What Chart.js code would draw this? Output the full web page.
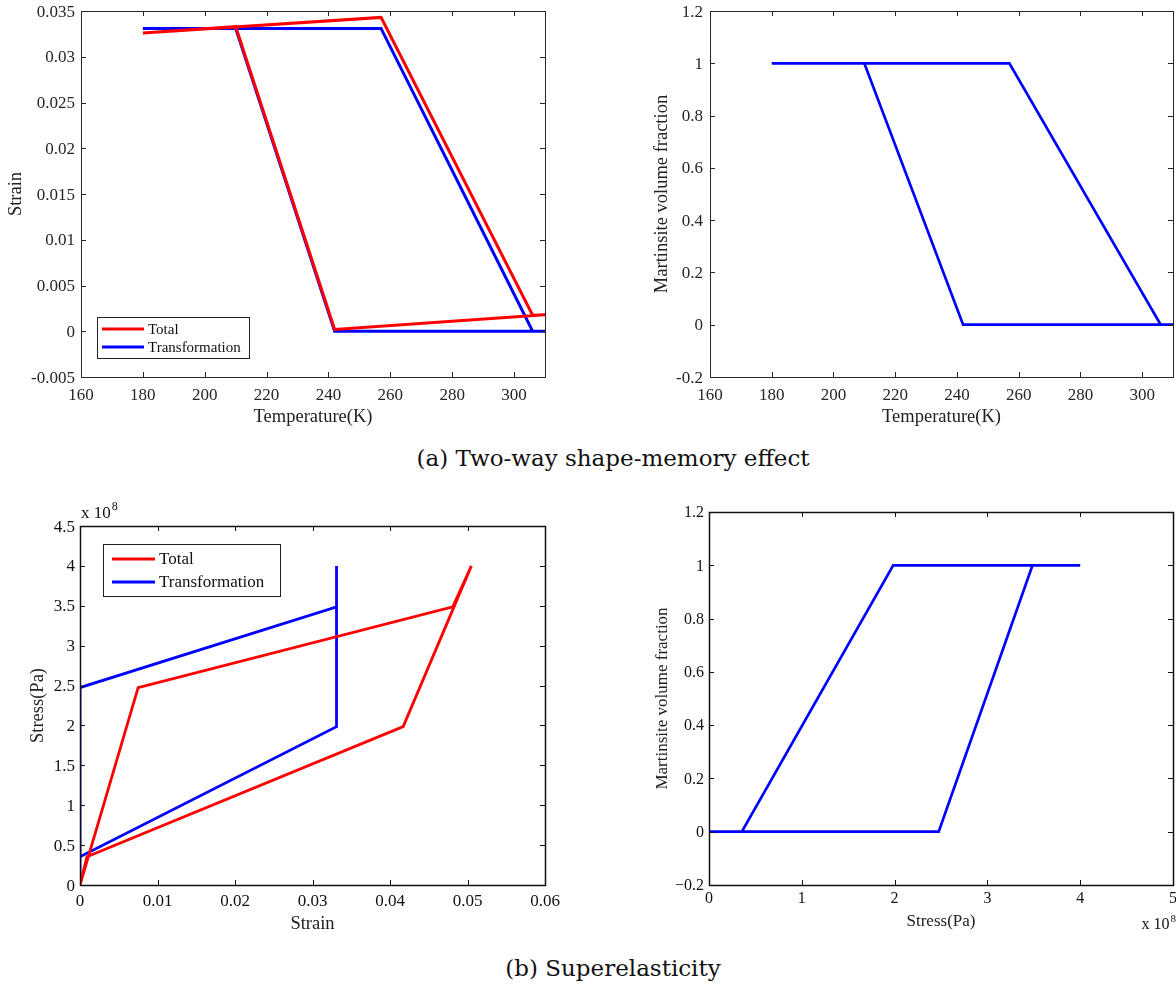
<!DOCTYPE html>
<html>
<head>
<meta charset="utf-8">
<title>SMA response</title>
<script src="https://cdn.jsdelivr.net/npm/chart.js@4.4.1/dist/chart.umd.min.js"></script>
<style>
  body { margin: 0; background: #fff; width: 1176px; height: 989px; position: relative; overflow: hidden; }
  canvas { position: absolute; }
  .caption { position: absolute; transform: translate(-50%, -50%); white-space: nowrap;
             font-family: "DejaVu Serif", "Liberation Serif", serif; font-size: 23px; color: #111; }
</style>
</head>
<body>
<canvas id="smeStrain" width="570" height="440" style="left:0;top:0"></canvas>
<canvas id="smeFraction" width="576" height="440" style="left:600px;top:0"></canvas>
<canvas id="seStress" width="570" height="450" style="left:0;top:490px"></canvas>
<canvas id="seFraction" width="576" height="450" style="left:600px;top:490px"></canvas>
<div class="caption" style="left:613px;top:458px">(a) Two-way shape-memory effect</div>
<div class="caption" style="left:613px;top:968px">(b) Superelasticity</div>

<script>
// (a) one thermal cycle: heat 180 K -> 310 K, then cool back to 180 K
const temperature      = [180, 257, 306, 310, 242, 210, 180];
const strainTotalA     = [0.0326, 0.0343, 0.00175, 0.0018, 0.0002, 0.0333, 0.0326];
const strainTransA     = [0.0331, 0.0331, 0, 0, 0, 0.0331, 0.0331];
const fractionA        = [1, 1, 0, 0, 0, 1, 1];

// (b) isothermal load to 400 MPa and unload
const stressPa         = [0, 2.475e8, 3.486e8, 4.0e8, 1.985e8, 0.354e8, 0];
const strainTotalB     = [0, 0.0075, 0.0481, 0.0505, 0.0417, 0.0009, 0];
const strainTransB     = [0, 0, 0.0331, 0.0331, 0.0331, 0, 0];
const fractionB        = [0, 0, 1, 1, 1, 0, 0];

// ticks
const tempTicks        = [160, 180, 200, 220, 240, 260, 280, 300];
const tempLabels       = ['160', '180', '200', '220', '240', '260', '280', '300'];
const strainTicksA     = [-0.005, 0, 0.005, 0.01, 0.015, 0.02, 0.025, 0.03, 0.035];
const strainLabelsA    = ['-0.005', '0', '0.005', '0.01', '0.015', '0.02', '0.025', '0.03', '0.035'];
const fracTicks        = [-0.2, 0, 0.2, 0.4, 0.6, 0.8, 1, 1.2];
const fracLabelsA      = ['-0.2', '0', '0.2', '0.4', '0.6', '0.8', '1', '1.2'];
const fracLabelsB      = ['\u22120.2', '0', '0.2', '0.4', '0.6', '0.8', '1', '1.2'];
const strainTicksB     = [0, 0.01, 0.02, 0.03, 0.04, 0.05, 0.06];
const strainLabelsB    = ['0', '0.01', '0.02', '0.03', '0.04', '0.05', '0.06'];
const stressTicksY     = [0, 0.5e8, 1e8, 1.5e8, 2e8, 2.5e8, 3e8, 3.5e8, 4e8, 4.5e8];
const stressLabelsY    = ['0', '0.5', '1', '1.5', '2', '2.5', '3', '3.5', '4', '4.5'];
const stressTicksX     = [0, 1e8, 2e8, 3e8, 4e8, 5e8];
const stressLabelsX    = ['0', '1', '2', '3', '4', '5'];

const RED = '#ff0000';
const BLUE = '#0000ff';
const SERIF = '"Liberation Serif", "Times New Roman", serif';

Chart.defaults.font.family = SERIF;
Chart.defaults.color = '#222';

function pts(xs, ys) {
    return xs.map((x, i) => ({x: x, y: ys[i]}));
}

function series(label, xs, ys, color, width) {
    return {
        label: label,
        data: pts(xs, ys),
        showLine: true,
        borderColor: color,
        backgroundColor: color,
        borderWidth: width,
        pointRadius: 0,
        tension: 0,
        fill: false
    };
}

// MATLAB style axes: box all round, inward ticks on every side, tick labels,
// an in-axes legend and the "x 10^n" exponent label
function matlabAxes(deco, xAxis, yAxis) {
    return {
        id: 'matlabAxes',
        afterDatasetsDraw(chart) {
            const ctx = chart.ctx;
            const a = chart.chartArea;
            const sx = chart.scales.x, sy = chart.scales.y;
            const len = 5;
            ctx.save();
            ctx.strokeStyle = deco.color;
            ctx.lineWidth = 1;
            ctx.beginPath();
            sx.ticks.forEach(t => {
                const px = Math.round(sx.getPixelForValue(t.value)) + 0.5;
                ctx.moveTo(px, a.bottom); ctx.lineTo(px, a.bottom - len);
                ctx.moveTo(px, a.top); ctx.lineTo(px, a.top + len);
            });
            sy.ticks.forEach(t => {
                const py = Math.round(sy.getPixelForValue(t.value)) + 0.5;
                ctx.moveTo(a.left, py); ctx.lineTo(a.left + len, py);
                ctx.moveTo(a.right, py); ctx.lineTo(a.right - len, py);
            });
            ctx.stroke();
            ctx.lineWidth = deco.boxWidth;
            ctx.strokeRect(Math.round(a.left) + 0.5, Math.round(a.top) + 0.5,
                           Math.round(a.right - a.left), Math.round(a.bottom - a.top));

            // tick labels
            ctx.fillStyle = deco.text;
            ctx.textBaseline = 'alphabetic';
            ctx.font = xAxis.tickSize + 'px ' + SERIF;
            ctx.textAlign = 'center';
            sx.ticks.forEach((t, i) => {
                ctx.fillText(xAxis.labels[i], sx.getPixelForValue(t.value), a.bottom + xAxis.tickPad);
            });
            ctx.font = yAxis.tickSize + 'px ' + SERIF;
            ctx.textAlign = 'right';
            sy.ticks.forEach((t, i) => {
                ctx.fillText(yAxis.labels[i], a.left - yAxis.tickPad,
                             sy.getPixelForValue(t.value) + yAxis.tickSize * 0.33);
            });

            const lg = deco.legend;
            if (lg) {
                const bx = a.left + lg.x, by = lg.fromBottom ? a.bottom - lg.y - lg.h : a.top + lg.y;
                ctx.fillStyle = '#fff';
                ctx.fillRect(bx, by, lg.w, lg.h);
                ctx.lineWidth = 1;
                ctx.strokeStyle = '#222';
                ctx.strokeRect(bx + 0.5, by + 0.5, lg.w, lg.h);
                ctx.font = lg.size + 'px ' + SERIF;
                ctx.textBaseline = 'middle';
                ctx.textAlign = 'left';
                chart.data.datasets.forEach((ds, i) => {
                    const ry = by + lg.first + i * lg.row;
                    ctx.strokeStyle = ds.borderColor;
                    ctx.lineWidth = ds.borderWidth;
                    ctx.beginPath();
                    ctx.moveTo(bx + lg.pad, ry);
                    ctx.lineTo(bx + lg.pad + lg.line, ry);
                    ctx.stroke();
                    ctx.fillStyle = '#111';
                    ctx.fillText(ds.label, bx + lg.pad + lg.line + 4, ry + 1);
                });
            }

            const ex = deco.exponent;
            if (ex) {
                ctx.fillStyle = '#111';
                ctx.textBaseline = 'alphabetic';
                ctx.textAlign = 'left';
                const small = Math.round(ex.size * 0.7) + 'px ' + SERIF;
                const big = ex.size + 'px ' + SERIF;
                ctx.font = big;
                const w = ctx.measureText('x 10').width;
                ctx.font = small;
                const wp = ctx.measureText(ex.power).width;
                const x0 = ex.anchor === 'right' ? a.right - w - wp + ex.x : a.left + ex.x;
                const y0 = ex.anchor === 'right' ? a.bottom + ex.y : a.top + ex.y;
                ctx.font = big;
                ctx.fillText('x 10', x0, y0);
                ctx.font = small;
                ctx.fillText(ex.power, x0 + w + 1, y0 - ex.size * 0.45);
            }
            ctx.restore();
        }
    };
}

function axis(opts) {
    const horizontal = opts.pos === 'bottom';
    return {
        type: 'linear',
        position: opts.pos,
        min: opts.min,
        max: opts.max,
        grid: {display: false},
        border: {display: false},
        afterBuildTicks: s => { s.ticks = opts.ticks.map(v => ({value: v})); },
        afterFit: s => { if (horizontal) s.height = opts.size; else s.width = opts.size; },
        ticks: {display: false},
        title: {
            display: true,
            text: opts.title,
            color: '#222',
            font: {family: SERIF, size: opts.titleSize, lineHeight: 1},
            padding: horizontal ? {top: 0, bottom: opts.titlePad} : {top: opts.titlePad, bottom: 0}
        }
    };
}

function makeChart(id, datasets, padding, xAxis, yAxis, deco) {
    return new Chart(document.getElementById(id), {
        type: 'scatter',
        data: {datasets: datasets},
        options: {
            responsive: false,
            animation: false,
            devicePixelRatio: 1,
            layout: {padding: padding},
            plugins: {legend: {display: false}, tooltip: {enabled: false}},
            scales: {x: axis(xAxis), y: axis(yAxis)}
        },
        plugins: [matlabAxes(deco, xAxis, yAxis)]
    });
}

// (a) strain vs temperature
makeChart('smeStrain',
    [series('Total', temperature, strainTotalA, RED, 3),
     series('Transformation', temperature, strainTransA, BLUE, 3)],
    {top: 11, right: 25, left: 0, bottom: 0},
    {pos: 'bottom', min: 160, max: 310, ticks: tempTicks, labels: tempLabels, size: 63, tickPad: 23,
     tickSize: 17, title: 'Temperature(K)', titleSize: 18.5, titlePad: 14},
    {pos: 'left', min: -0.005, max: 0.035, ticks: strainTicksA, labels: strainLabelsA, size: 81, tickPad: 6,
     tickSize: 17, title: 'Strain', titleSize: 18.5, titlePad: 7},
    {color: '#262626', text: '#262626', boxWidth: 1,
     legend: {x: 16, y: 19, fromBottom: true, w: 152, h: 41, size: 15, pad: 5, line: 42, first: 12, row: 18}});

// (a) martensite fraction vs temperature
makeChart('smeFraction',
    [series('Transformation', temperature, fractionA, BLUE, 2.7)],
    {top: 11, right: 3, left: 0, bottom: 0},
    {pos: 'bottom', min: 160, max: 310, ticks: tempTicks, labels: tempLabels, size: 63, tickPad: 23,
     tickSize: 17, title: 'Temperature(K)', titleSize: 18.5, titlePad: 14},
    {pos: 'left', min: -0.2, max: 1.2, ticks: fracTicks, labels: fracLabelsA, size: 110, tickPad: 7,
     tickSize: 17, title: 'Martinsite volume fraction', titleSize: 18.5, titlePad: 53},
    {color: '#262626', text: '#262626', boxWidth: 1});

// (b) stress vs strain
makeChart('seStress',
    [series('Total', strainTotalB, stressPa, RED, 2.8),
     series('Transformation', strainTransB, stressPa, BLUE, 2.8)],
    {top: 36, right: 25, left: 0, bottom: 0},
    {pos: 'bottom', min: 0, max: 0.06, ticks: strainTicksB, labels: strainLabelsB, size: 55, tickPad: 21,
     tickSize: 17, title: 'Strain', titleSize: 18.5, titlePad: 7},
    {pos: 'left', min: 0, max: 4.5e8, ticks: stressTicksY, labels: stressLabelsY, size: 80, tickPad: 5,
     tickSize: 17, title: 'Stress(Pa)', titleSize: 18.5, titlePad: 29},
    {color: '#111', text: '#111', boxWidth: 1.5,
     legend: {x: 23, y: 18, fromBottom: false, w: 177, h: 52, size: 17, pad: 9, line: 43, first: 15, row: 23},
     exponent: {size: 17, power: '8', x: 1, y: -8}});

// (b) martensite fraction vs stress
makeChart('seFraction',
    [series('Transformation', stressPa, fractionB, BLUE, 2.7)],
    {top: 22, right: 3, left: 0, bottom: 0},
    {pos: 'bottom', min: 0, max: 5e8, ticks: stressTicksX, labels: stressLabelsX, size: 55, tickPad: 18,
     tickSize: 16, title: 'Stress(Pa)', titleSize: 17, titlePad: 10},
    {pos: 'left', min: -0.2, max: 1.2, ticks: fracTicks, labels: fracLabelsB, size: 109, tickPad: 5,
     tickSize: 16, title: 'Martinsite volume fraction', titleSize: 17, titlePad: 54},
    {color: '#111', text: '#111', boxWidth: 1.5,
     exponent: {size: 16, power: '8', anchor: 'right', x: 2, y: 44}});
</script>
</body>
</html>
